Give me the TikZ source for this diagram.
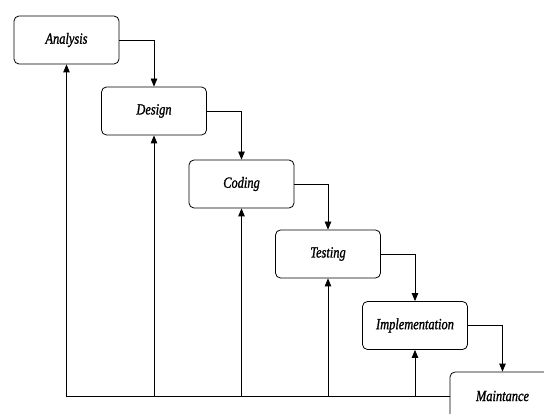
\documentclass[tikz,border=0pt]{standalone}
\usepackage{fontspec}
\newfontfamily\phasefont[FakeStretch=0.8,FakeBold=1.2]{Liberation Serif}
\usetikzlibrary{arrows.meta}
\begin{document}
\begin{tikzpicture}[x=1pt,y=-1pt,
  phase/.style={draw, rounded corners=5pt, minimum width=105pt, minimum height=48pt,
    line width=0.8pt, font=\phasefont\itshape\fontsize{15.5}{18}\selectfont},
  flow/.style={draw, line width=0.8pt, -{Triangle[length=8pt,width=6.5pt]}}]
\useasboundingbox (0,0) rectangle (544,414);
\clip (0,0) rectangle (544,414);
% waterfall phases
\node[phase] (ana) at (66.5,40) {Analysis};
\node[phase] (des) at (154,111) {Design};
\node[phase] (cod) at (241.5,184) {Coding};
\node[phase] (tes) at (328,254) {Testing};
\node[phase] (imp) at (415,325.5) {Implementation};
\node[phase] (mai) at (502.5,396) {Maintance};
% forward steps
\draw[flow] (ana.east) -| (des.north);
\draw[flow] (des.east) -| (cod.north);
\draw[flow] (cod.east) -| (tes.north);
\draw[flow] (tes.east) -| (imp.north);
\draw[flow] (imp.east) -| (mai.north);
% feedback from maintenance to every earlier phase
\draw[flow] (mai.west) -| (ana.south);
\foreach \n in {des,cod,tes,imp}
  \draw[flow] (mai.west -| \n.south) -- (\n.south);
\end{tikzpicture}
\end{document}
